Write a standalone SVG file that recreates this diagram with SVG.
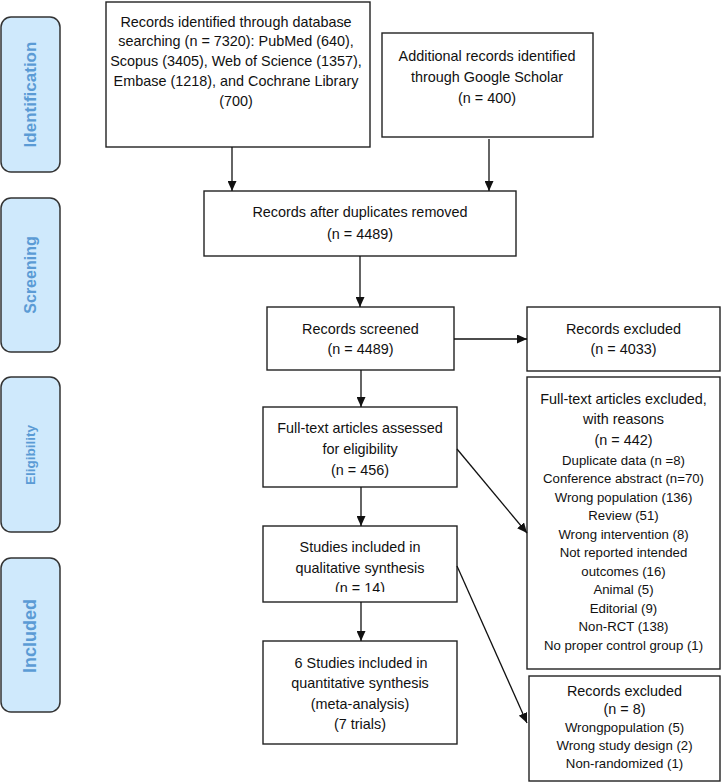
<svg xmlns="http://www.w3.org/2000/svg" width="723" height="784" viewBox="0 0 723 784">
<style>
.phase{fill:#cfe9fc;stroke:#333;stroke-width:1.5}
.pt{font-family:"Liberation Sans",Arial,sans-serif;font-weight:bold;fill:#5b9bd5;text-anchor:middle}
.box{fill:#fff;stroke:#222;stroke-width:1.4}
.t{font-family:"Liberation Sans",Arial,sans-serif;font-size:14.4px;fill:#111;text-anchor:middle}
.s{font-size:13.2px}
.c{fill:none;stroke:#111;stroke-width:1.3;marker-end:url(#ah)}
</style>
<defs>
<marker id="ah" markerUnits="userSpaceOnUse" markerWidth="10" markerHeight="9" refX="10" refY="4.5" orient="auto">
<path d="M0,0 L10,4.5 L0,9 z" fill="#111"/>
</marker>
<clipPath id="clip9"><rect x="263" y="526" width="194" height="66"/></clipPath>
</defs>
<g id="phase-identification"><rect class="phase" x="1" y="17" width="59" height="155" rx="10"/><text class="pt" font-size="17" transform="translate(36,94.5) rotate(-90)">Identification</text></g>
<g id="phase-screening"><rect class="phase" x="1" y="198" width="59" height="154" rx="10"/><text class="pt" font-size="16" transform="translate(36,275) rotate(-90)">Screening</text></g>
<g id="phase-eligibility"><rect class="phase" x="1" y="377" width="59" height="155" rx="10"/><text class="pt" font-size="13.5" transform="translate(35,455) rotate(-90)">Eligibility</text></g>
<g id="phase-included"><rect class="phase" x="1" y="558" width="59" height="154" rx="10"/><text class="pt" font-size="18" transform="translate(36,636) rotate(-90)">Included</text></g>

<g id="db-search"><rect class="box" x="106" y="2" width="264" height="145"/>
<text class="t" x="236" y="27">Records identified through database</text>
<text class="t" x="236" y="46">searching (n = 7320): PubMed (640),</text>
<text class="t" x="236" y="66">Scopus (3405), Web of Science (1357),</text>
<text class="t" x="236" y="86">Embase (1218), and Cochrane Library</text>
<text class="t" x="236" y="106">(700)</text></g>

<g id="google-scholar"><rect class="box" x="382" y="33" width="211" height="104"/>
<text class="t" x="487" y="61">Additional records identified</text>
<text class="t" x="487" y="82">through Google Scholar</text>
<text class="t" x="487" y="103">(n = 400)</text></g>

<g id="duplicates-removed"><rect class="box" x="204" y="191" width="312" height="65"/>
<text class="t" x="360" y="217">Records after duplicates removed</text>
<text class="t" x="360" y="239">(n = 4489)</text></g>

<g id="screened"><rect class="box" x="267" y="307" width="187" height="63"/>
<text class="t" x="360.5" y="334">Records screened</text>
<text class="t" x="360.5" y="354">(n = 4489)</text></g>

<g id="excluded-screen"><rect class="box" x="527" y="307" width="193" height="64"/>
<text class="t" x="623.5" y="334">Records excluded</text>
<text class="t" x="623.5" y="354">(n = 4033)</text></g>

<g id="fulltext-excluded"><rect class="box" x="527" y="377" width="193" height="292"/>
<text class="t" x="623.5" y="404">Full-text articles excluded,</text>
<text class="t" x="623.5" y="424">with reasons</text>
<text class="t" x="623.5" y="445">(n = 442)</text>
<text class="t s" x="623.5" y="464.5">Duplicate data (n =8)</text>
<text class="t s" x="623.5" y="483">Conference abstract (n=70)</text>
<text class="t s" x="623.5" y="501.5">Wrong population (136)</text>
<text class="t s" x="623.5" y="520">Review (51)</text>
<text class="t s" x="623.5" y="538.5">Wrong intervention (8)</text>
<text class="t s" x="623.5" y="557">Not reported intended</text>
<text class="t s" x="623.5" y="575.5">outcomes (16)</text>
<text class="t s" x="623.5" y="594">Animal (5)</text>
<text class="t s" x="623.5" y="612.5">Editorial (9)</text>
<text class="t s" x="623.5" y="631">Non-RCT (138)</text>
<text class="t s" x="623.5" y="649.5">No proper control group (1)</text></g>

<g id="excluded-quant"><rect class="box" x="529" y="676" width="191" height="105"/>
<text class="t" x="624.5" y="696">Records excluded</text>
<text class="t" x="624.5" y="713.5">(n = 8)</text>
<text class="t s" x="624.5" y="731.5">Wrongpopulation (5)</text>
<text class="t s" x="624.5" y="749.5">Wrong study design (2)</text>
<text class="t s" x="624.5" y="767.5">Non-randomized (1)</text></g>

<g id="fulltext-assessed"><rect class="box" x="263" y="407" width="194" height="80"/>
<text class="t" x="360" y="433">Full-text articles assessed</text>
<text class="t" x="360" y="454">for eligibility</text>
<text class="t" x="360" y="475">(n = 456)</text></g>

<g id="qualitative"><rect class="box" x="263" y="526" width="194" height="76"/>
<text class="t" x="360" y="552">Studies included in</text>
<text class="t" x="360" y="573">qualitative synthesis</text>
<text class="t" x="360" y="593" clip-path="url(#clip9)">(n = 14)</text></g>

<g id="quantitative"><rect class="box" x="263" y="641" width="194" height="103"/>
<text class="t" x="361" y="668">6 Studies included in</text>
<text class="t" x="360" y="688">quantitative synthesis</text>
<text class="t" x="360" y="709">(meta-analysis)</text>
<text class="t" x="360" y="729">(7 trials)</text></g>

<g id="connectors">
<line class="c" x1="232" y1="147" x2="232" y2="191"/>
<line class="c" x1="489" y1="139" x2="489" y2="191"/>
<line class="c" x1="360" y1="256" x2="360" y2="307"/>
<line class="c" x1="454" y1="339" x2="527" y2="339"/>
<line class="c" x1="361" y1="370" x2="361" y2="407"/>
<line class="c" x1="457" y1="449" x2="527" y2="533"/>
<line class="c" x1="361" y1="487" x2="361" y2="526"/>
<line class="c" x1="457" y1="566" x2="527" y2="723"/>
<line class="c" x1="361" y1="602" x2="361" y2="641"/>
</g>
</svg>
